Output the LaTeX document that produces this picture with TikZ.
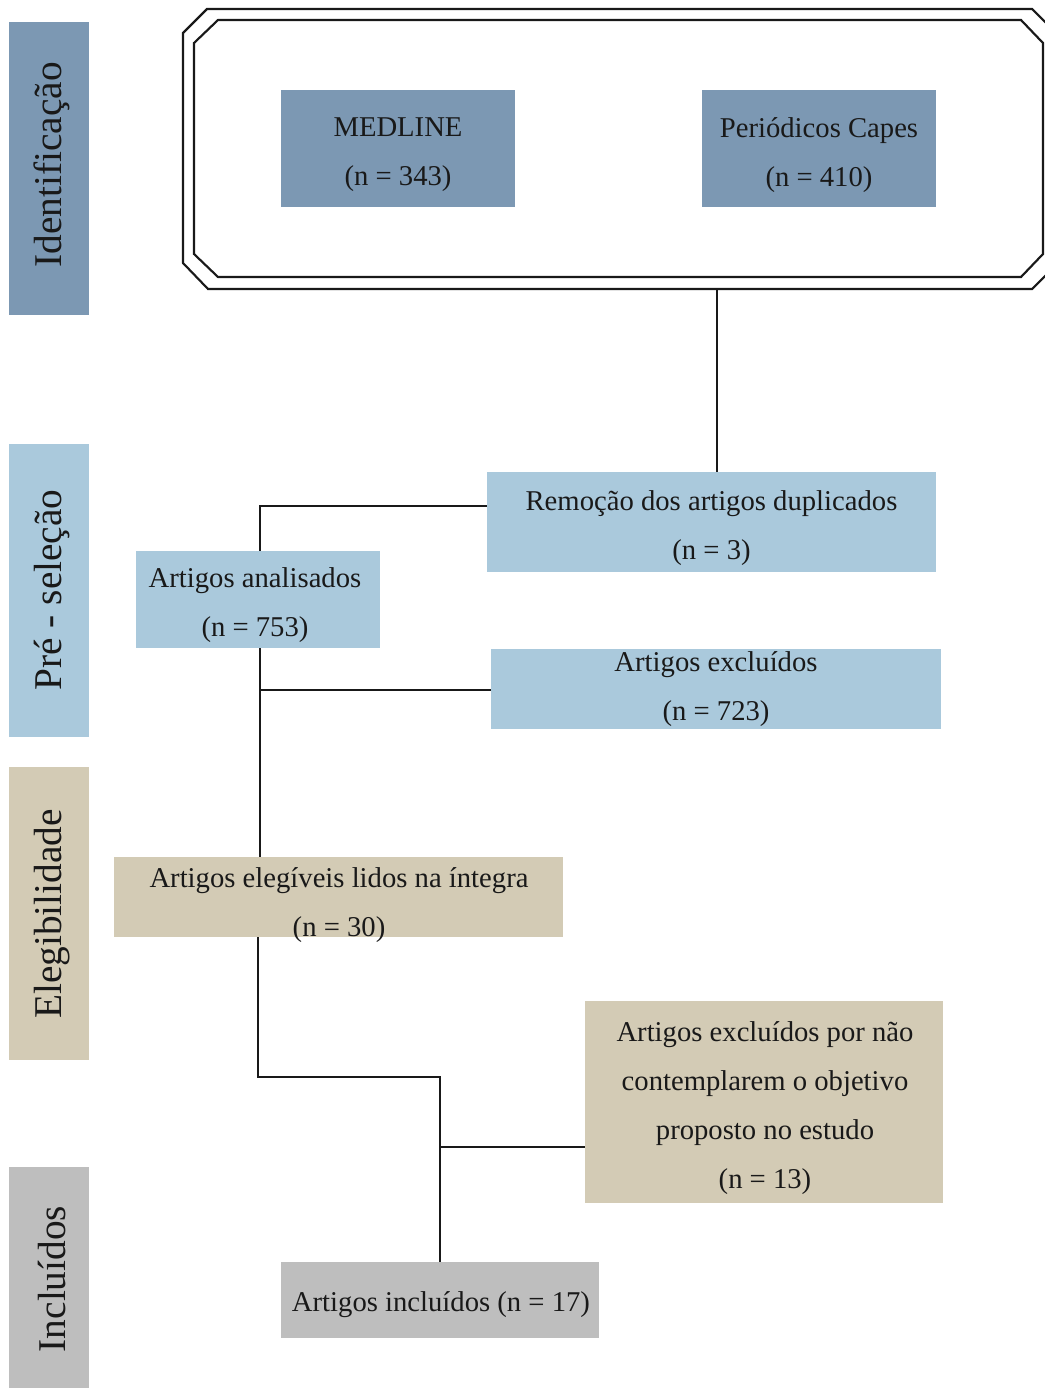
\documentclass[tikz,border=0pt]{standalone}
\usepackage{fontspec}
\setmainfont{Liberation Serif}
\definecolor{steel}{HTML}{7C98B3}
\definecolor{lblue}{HTML}{AAC9DC}
\definecolor{beige}{HTML}{D3CBB5}
\definecolor{lgray}{HTML}{BEBEBE}
\begin{document}
\begin{tikzpicture}[x=0.75pt,y=-0.75pt,
  box/.style={draw=none,inner sep=0pt,outer sep=0pt,anchor=center},
  txt/.style={inner sep=0pt,align=center,font=\fontsize{21.5}{36.75}\selectfont,text=black!90},
  side/.style={inner sep=0pt,rotate=90,font=\fontsize{29.5}{34}\selectfont,text=black!90},
  conn/.style={line width=1.45pt,black!90},
  frame/.style={line width=1.6pt,black!90}]
\useasboundingbox (0,0) rectangle (1045,1388);
\clip (0,0) rectangle (1045,1388);
% side bars
\node[box,fill=steel,minimum width=60pt,minimum height=219.75pt] (sb1) at (49,168.5) {};
\node[box,fill=lblue,minimum width=60pt,minimum height=219.75pt] (sb2) at (49,590.5) {};
\node[box,fill=beige,minimum width=60pt,minimum height=219.75pt] (sb3) at (49,913.5) {};
\node[box,fill=lgray,minimum width=60pt,minimum height=165.75pt] (sb4) at (49,1277.5) {};
\node[side] (st1) at (52,165) {Identificação};
\node[side] (st2) at (52,590) {Pré - seleção};
\node[side] (st3) at (52,914) {Elegibilidade};
\node[side] (st4) at (52,1279) {Incluídos};
% frame
\draw[frame] (207,9) -- (1032,9) -- (1056,33) -- (1056,265) -- (1032,289) -- (208,289) -- (183,263) -- (183,33) -- cycle;
\draw[frame] (218,20) -- (1021,20) -- (1043,43) -- (1043,254) -- (1021,277) -- (218,277) -- (194,254) -- (194,43) -- cycle;
\coordinate (fb) at (717,289);
% boxes
\node[box,fill=steel,minimum width=175.5pt,minimum height=87.75pt] (med) at (398,148.5) {};
\node[txt] (medt) at (398,155) {MEDLINE\\(n = 343)};
\node[box,fill=steel,minimum width=175.5pt,minimum height=87.75pt] (cap) at (819,148.5) {};
\node[txt] (capt) at (819,155) {Periódicos Capes\\(n = 410)};
\node[box,fill=lblue,minimum width=336.75pt,minimum height=75pt] (rem) at (711.5,522) {};
\node[txt] (remt) at (711.5,528) {Remoção dos artigos duplicados\\(n = 3)};
\node[box,fill=lblue,minimum width=183pt,minimum height=72.75pt] (ana) at (258,599.5) {};
\node[txt] (anat) at (255,605) {Artigos analisados\\(n = 753)};
\node[box,fill=lblue,minimum width=337.5pt,minimum height=60pt] (exc) at (716,689) {};
\node[txt] (exct) at (716,689) {Artigos excluídos\\(n = 723)};
\node[box,fill=beige,minimum width=336.75pt,minimum height=60pt] (ele) at (338.5,897) {};
\node[txt] (elet) at (339,905) {Artigos elegíveis lidos na íntegra\\(n = 30)};
\node[box,fill=beige,minimum width=268.5pt,minimum height=151.5pt] (exn) at (764,1102) {};
\node[txt] (exnt) at (765,1108) {Artigos excluídos por não\\contemplarem o objetivo\\proposto no estudo\\(n = 13)};
\node[box,fill=lgray,minimum width=238.5pt,minimum height=57pt] (inc) at (440,1300) {};
\node[txt] (inct) at (441,1305) {Artigos incluídos (n = 17)};
% connectors
\coordinate (j1) at (260,506);
\coordinate (j2) at (260,690);
\coordinate (j3) at (258,1077);
\coordinate (j4) at (440,1077);
\coordinate (j5) at (440,1147);
\draw[conn] (fb) -- (fb |- rem.north);
\draw[conn] (rem.west |- j1) -- (j1) -- (j1 |- ana.north);
\draw[conn] (j2 |- ana.south) -- (j2 |- ele.north);
\draw[conn] (j2) -- (j2 -| exc.west);
\draw[conn] (j3 |- ele.south) -- (j3) -- (j4) -- (j4 |- inc.north);
\draw[conn] (j5) -- (j5 -| exn.west);
\end{tikzpicture}
\end{document}
